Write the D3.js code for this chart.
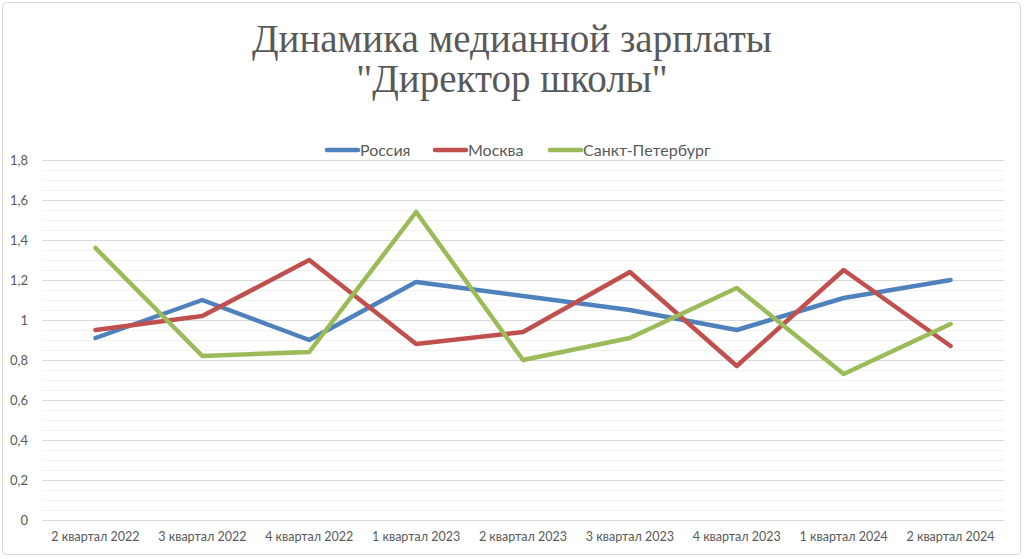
<!DOCTYPE html>
<html><head><meta charset="utf-8">
<script src="https://cdn.jsdelivr.net/npm/d3@7"></script>
<style>body{margin:0;background:#fff}svg{display:block}</style>
</head><body>
<svg id="c" width="1024" height="559"></svg>
<script>
const categories = ["2 квартал 2022","3 квартал 2022","4 квартал 2022","1 квартал 2023","2 квартал 2023","3 квартал 2023","4 квартал 2023","1 квартал 2024","2 квартал 2024"];
const russia = [0.91,1.10,0.90,1.19,1.12,1.05,0.95,1.11,1.20];
const moscow = [0.95,1.02,1.30,0.88,0.94,1.24,0.77,1.25,0.87];
const spb = [1.36,0.82,0.84,1.54,0.80,0.91,1.16,0.73,0.98];
const seriesNames = ["Россия","Москва","Санкт-Петербург"];
const yTicks = [0,0.2,0.4,0.6,0.8,1,1.2,1.4,1.6,1.8];
const titleLines = ["Динамика медианной зарплаты","\"Директор школы\""];

const series = [
  {name: seriesNames[0], values: russia, color: "#4f81bd"},
  {name: seriesNames[1], values: moscow, color: "#c0504d"},
  {name: seriesNames[2], values: spb, color: "#9bbb59"}
];

const svg = d3.select("#c");
svg.append("rect").attr("x",2.5).attr("y",2.5).attr("width",1018).attr("height",552)
  .attr("rx",4).attr("fill","#fff").attr("stroke","#d9d9d9");

const pLeft = 42, pRight = 1004, pTop = 160, pBottom = 520;
const x = d3.scaleBand().domain(categories).range([pLeft,pRight]);
const y = d3.scaleLinear().domain([0,1.8]).range([pBottom,pTop]);

// minor grid
const minor = d3.range(0,1.8001,0.05).filter(v => Math.abs(v*5 - Math.round(v*5)) > 1e-6);
svg.append("g").selectAll("line").data(minor).join("line")
  .attr("x1",pLeft).attr("x2",pRight)
  .attr("y1",d=>Math.round(y(d))+0.5).attr("y2",d=>Math.round(y(d))+0.5)
  .attr("stroke","#f2f2f2").attr("stroke-width",1);
// major grid
svg.append("g").selectAll("line").data(yTicks).join("line")
  .attr("x1",pLeft).attr("x2",pRight)
  .attr("y1",d=>Math.round(y(d))+0.5).attr("y2",d=>Math.round(y(d))+0.5)
  .attr("stroke","#d9d9d9").attr("stroke-width",1);

const fmt = d => String(d).replace(".",",");
const yAxis = d3.axisLeft(y).tickValues(yTicks).tickFormat(fmt).tickSize(0).tickPadding(14);
const gy = svg.append("g").attr("transform",`translate(${pLeft},0)`).call(yAxis);
gy.select(".domain").remove();
gy.selectAll("text").attr("font-family","Lato, 'Open Sans', sans-serif").attr("font-size",13).attr("fill","#595959");

const xAxis = d3.axisBottom(x).tickSize(0).tickPadding(12);
const gx = svg.append("g").attr("transform",`translate(0,${pBottom})`).call(xAxis);
gx.select(".domain").remove();
gx.selectAll("text").attr("font-family","Lato, 'Open Sans', sans-serif").attr("font-size",12.5).attr("fill","#595959");

const line = d3.line().x((d,i)=>x(categories[i])+x.bandwidth()/2).y(d=>y(d));
svg.append("g").selectAll("path").data(series).join("path")
  .attr("d",d=>line(d.values)).attr("fill","none")
  .attr("stroke",d=>d.color).attr("stroke-width",4.5)
  .attr("stroke-linejoin","round").attr("stroke-linecap","round");

// title
svg.append("g").selectAll("text").data(titleLines).join("text")
  .attr("x",512).attr("y",(d,i)=>52+i*40).attr("text-anchor","middle")
  .attr("font-family","'Liberation Serif', 'DejaVu Serif', serif").attr("font-size",39)
  .attr("fill","#595959").text(d=>d);

// legend
const legendX = [325,433,548];
const lg = svg.append("g").selectAll("g").data(series).join("g")
  .attr("transform",(d,i)=>`translate(${legendX[i]},150)`);
lg.append("line").attr("x1",2).attr("x2",33).attr("y1",0).attr("y2",0)
  .attr("stroke",d=>d.color).attr("stroke-width",4.5).attr("stroke-linecap","round");
lg.append("text").attr("x",35).attr("y",5.5).attr("font-family","Lato, 'Open Sans', sans-serif")
  .attr("font-size",16).attr("fill","#595959").text(d=>d.name);
</script>
</body></html>
